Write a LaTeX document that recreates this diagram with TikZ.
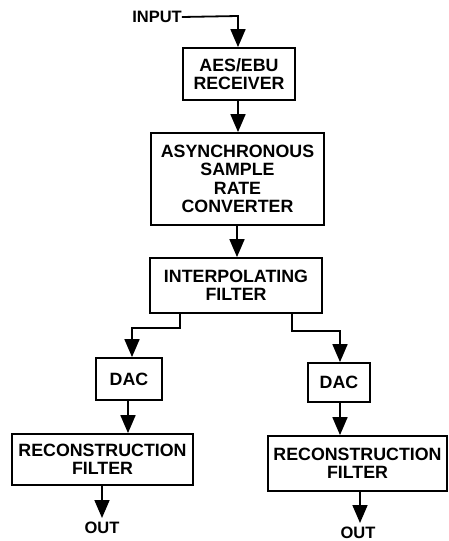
\documentclass[tikz,border=0pt]{standalone}
\usepackage{fontspec}
\setmainfont{Liberation Sans}
\usetikzlibrary{arrows.meta}
\begin{document}
\begin{tikzpicture}[x=1pt,y=-1pt,
  blk/.style={draw,line width=1.8pt,align=center,inner sep=0pt,
    font=\fontsize{17.8}{18.3}\selectfont\bfseries},
  lbl/.style={inner sep=0pt,font=\fontsize{16.5}{17}\selectfont\bfseries},
  con/.style={line width=1.8pt},
  arr/.style={line width=1.8pt,-{Triangle[length=18pt,width=15pt]}}]
\useasboundingbox (0,0) rectangle (448,541);
\node[lbl] (in) at (157,17) {INPUT};
\node[blk,minimum width=112pt,minimum height=52pt] (aes) at (239,74) {AES/EBU\\RECEIVER};
\node[blk,minimum width=173pt,minimum height=92pt] (asrc) at (237.5,179) {ASYNCHRONOUS\\SAMPLE\\RATE\\CONVERTER};
\node[blk,minimum width=172pt,minimum height=55pt] (ip) at (236,285.5) {INTERPOLATING\\FILTER};
\node[blk,minimum width=66pt,minimum height=42pt] (dacl) at (129,379) {DAC};
\node[blk,minimum width=62pt,minimum height=39pt] (dacr) at (339,382.5) {DAC};
\node[blk,minimum width=181pt,minimum height=51pt] (recl) at (102.5,459.5) {RECONSTRUCTION\\FILTER};
\node[blk,minimum width=179pt,minimum height=55pt] (recr) at (357.5,463.5) {RECONSTRUCTION\\FILTER};
\node[lbl] (outl) at (102,528) {OUT};
\node[lbl] (outr) at (358,532.5) {OUT};
\coordinate (c1) at (238,16);
\draw[arr] (in.east) -- (c1) -- (aes.north -| c1);
\draw[arr] (aes.south -| 238,0) -- (asrc.north -| 238,0);
\draw[arr] (asrc.south -| 237,0) -- (ip.north -| 237,0);
\coordinate (l1) at (180,328);
\coordinate (l2) at (132,328);
\draw[arr] (ip.south -| l1) -- (l1) -- (l2) -- (dacl.north -| l2);
\coordinate (r1) at (292,331);
\coordinate (r2) at (340,331);
\draw[arr] (ip.south -| r1) -- (r1) -- (r2) -- (dacr.north -| r2);
\draw[arr] (dacl.south -| 128,0) -- (recl.north -| 128,0);
\draw[arr] (dacr.south -| 340,0) -- (recr.north -| 340,0);
\draw[arr] (recl.south -| 102,0) -- (102,518);
\draw[arr] (recr.south -| 360,0) -- (360,523);
\end{tikzpicture}
\end{document}
